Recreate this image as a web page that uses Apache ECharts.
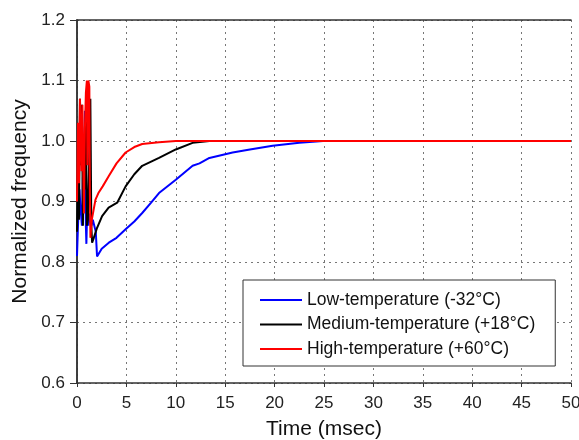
<!DOCTYPE html>
<html>
<head>
<meta charset="utf-8">
<script src="https://cdn.jsdelivr.net/npm/echarts@6/dist/echarts.min.js"></script>
<style>
  html, body { margin: 0; padding: 0; background: #fff; }
  #chart { width: 579px; height: 440px; }
</style>
</head>
<body>
<div id="chart"></div>
<script>
// Time axis (msec) and normalized-frequency responses at three temperatures
const lowTime  = [0, 0.1, 0.25, 0.35, 0.5, 0.6, 0.7, 0.8, 0.9, 0.95, 1.05, 1.15, 1.3, 1.45, 1.6, 1.8, 1.9, 2.03, 2.5, 3.22, 4.0, 4.92, 5.8, 6.6, 7.5, 8.3, 10, 11.7, 12.4, 13.4, 15.75, 17.5, 19.8, 22.5, 24.9, 50];
const lowFreq  = [0.81, 0.86, 0.92, 0.89, 0.86, 0.94, 0.92, 1.05, 0.86, 0.83, 0.90, 0.86, 0.88, 0.86, 0.87, 0.87, 0.85, 0.809, 0.822, 0.832, 0.84, 0.854, 0.867, 0.881, 0.898, 0.914, 0.936, 0.959, 0.963, 0.972, 0.981, 0.986, 0.992, 0.997, 1.0, 1.0];

const medTime  = [0, 0.1, 0.2, 0.3, 0.4, 0.5, 0.6, 0.7, 0.8, 0.9, 1.0, 1.1, 1.2, 1.35, 1.45, 1.53, 1.7, 2.0, 2.54, 3.2, 4.07, 4.92, 5.8, 6.6, 8.3, 10, 11.7, 13.4, 50];
const medFreq  = [0.85, 0.95, 0.87, 1.07, 0.96, 1.06, 0.86, 1.0, 0.92, 1.05, 0.86, 0.87, 0.94, 1.07, 0.86, 0.832, 0.84, 0.855, 0.876, 0.89, 0.898, 0.925, 0.945, 0.959, 0.972, 0.986, 0.997, 1.0, 1.0];

const highTime = [0, 0.1, 0.2, 0.3, 0.45, 0.55, 0.7, 0.8, 0.9, 1.0, 1.05, 1.15, 1.25, 1.3, 1.36, 1.5, 1.87, 2.2, 2.6, 3.22, 4.0, 4.92, 5.8, 6.6, 8.3, 10, 50];
const highFreq = [0.90, 1.03, 0.93, 1.07, 0.95, 1.06, 0.88, 1.02, 1.08, 1.10, 0.96, 1.10, 1.09, 0.92, 0.84, 0.87, 0.903, 0.915, 0.925, 0.942, 0.963, 0.981, 0.99, 0.995, 0.998, 1.0, 1.0];

const seriesNames = [
  'Low-temperature (-32°C)',
  'Medium-temperature (+18°C)',
  'High-temperature (+60°C)'
];
const seriesColors = ['#0000ff', '#000000', '#ff0000'];

const xTicks = { min: 0, max: 50, interval: 5 };
const yTicks = { min: 0.6, max: 1.2, interval: 0.1 };

function pairs(xs, ys) { return xs.map((x, i) => [x, ys[i]]); }

const font = 'Liberation Sans, Arial, sans-serif';
const chart = echarts.init(document.getElementById('chart'));

const gridLine = { show: true, lineStyle: { color: '#777', type: [2, 4], width: 1 } };
const frame = { show: true, lineStyle: { color: '#333', width: 1.5 } };

chart.setOption({
  animation: false,
  backgroundColor: '#fff',
  grid: { left: 77, right: 8, top: 20, bottom: 57, containLabel: false, outerBoundsMode: 'none' },
  xAxis: [{
    type: 'value', min: xTicks.min, max: xTicks.max, interval: xTicks.interval,
    name: 'Time (msec)', nameLocation: 'middle', nameGap: 36,
    nameTextStyle: { fontFamily: font, fontSize: 21, color: '#111' },
    axisLine: frame,
    axisTick: { show: true, length: 4, lineStyle: { color: '#333' } },
    axisLabel: { fontFamily: font, fontSize: 17, color: '#222', margin: 12 },
    splitLine: gridLine
  }, {
    type: 'value', position: 'top', min: xTicks.min, max: xTicks.max, interval: xTicks.interval,
    axisLine: frame, axisTick: { show: false }, axisLabel: { show: false }, splitLine: { show: false }
  }],
  yAxis: [{
    type: 'value', min: yTicks.min, max: yTicks.max, interval: yTicks.interval,
    name: 'Normalized frequency', nameLocation: 'middle', nameGap: 46,
    nameTextStyle: { fontFamily: font, fontSize: 21, color: '#111' },
    axisLine: frame,
    axisTick: { show: true, length: 7, lineStyle: { color: '#333' } },
    axisLabel: { fontFamily: font, fontSize: 17, color: '#222', margin: 12,
      formatter: v => v.toFixed(1) },
    splitLine: gridLine
  }, {
    type: 'value', position: 'right', min: yTicks.min, max: yTicks.max, interval: yTicks.interval,
    axisLine: frame, axisTick: { show: false }, axisLabel: { show: false }, splitLine: { show: false }
  }],
  legend: {
    orient: 'vertical', left: 243, top: 280,
    padding: [10, 20, 7, 17], itemGap: 4.5,
    icon: 'rect', itemWidth: 42, itemHeight: 2,
    borderColor: '#333', borderWidth: 1, backgroundColor: '#fff',
    textStyle: { fontFamily: font, fontSize: 17.5, lineHeight: 20, color: '#111' },
    data: seriesNames
  },
  series: [
    { name: seriesNames[0], type: 'line', data: pairs(lowTime, lowFreq) },
    { name: seriesNames[1], type: 'line', data: pairs(medTime, medFreq) },
    { name: seriesNames[2], type: 'line', data: pairs(highTime, highFreq) }
  ].map((s, i) => Object.assign(s, {
    symbol: 'none', showSymbol: false, smooth: false,
    lineStyle: { color: seriesColors[i], width: 2 },
    itemStyle: { color: seriesColors[i] }
  }))
});
</script>
</body>
</html>
